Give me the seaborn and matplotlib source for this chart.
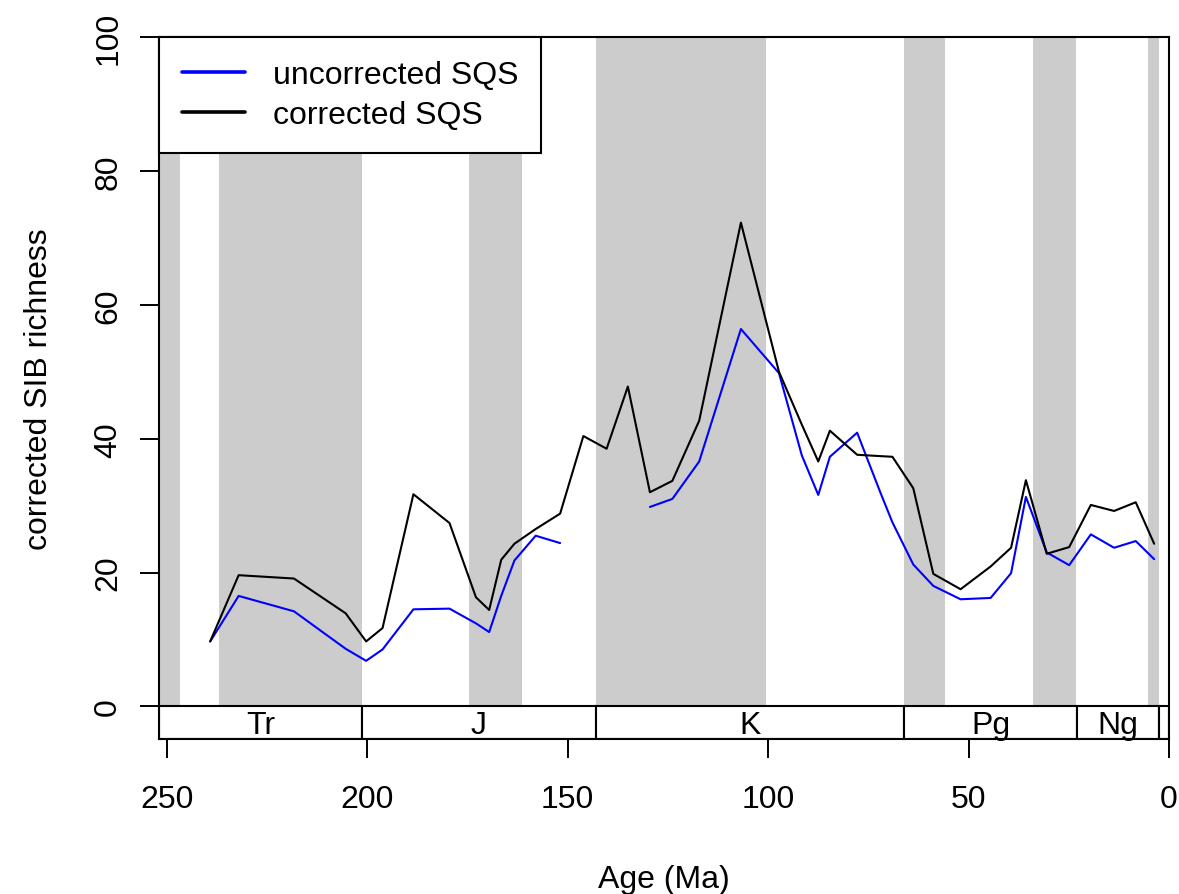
import numpy as np
import pandas as pd
import matplotlib
matplotlib.use("Agg")
import matplotlib.pyplot as plt
from matplotlib.patches import Rectangle
from matplotlib.lines import Line2D
import seaborn as sns

# Interval midpoints (Ma) and subsampled richness estimates
age = [239.2, 232.1, 218.3, 205.4, 200.3, 196.2, 188.5, 179.5, 172.9, 169.6,
       166.6, 163.3, 158.0, 151.9, 146.1, 140.3, 135.0, 129.5, 123.9, 117.2,
       106.8, 97.3, 91.6, 87.5, 84.6, 77.8, 72.1, 69.0, 63.8, 58.8,
       52.0, 44.5, 39.4, 35.7, 30.5, 24.9, 19.5, 13.7, 8.3, 3.7]
corrected = [9.7, 19.6, 19.1, 13.9, 9.7, 11.7, 31.7, 27.4, 16.3, 14.4,
             21.9, 24.3, 26.5, 28.8, 40.4, 38.5, 47.8, 32.0, 33.7, 42.7,
             72.3, 50.0, 42.1, 36.6, 41.2, 37.6, 37.4, 37.3, 32.6, 19.8,
             17.5, 20.9, 23.7, 33.8, 22.8, 23.8, 30.1, 29.2, 30.5, 24.3]
uncorrected = [9.7, 16.5, 14.2, 8.6, 6.8, 8.5, 14.5, 14.6, 12.4, 11.1,
               16.5, 21.8, 25.5, 24.4, np.nan, np.nan, np.nan, 29.8, 31.0, 36.6,
               56.4, 49.8, 37.5, 31.6, 37.3, 40.9, 32.1, 27.5, 21.2, 18.0,
               16.0, 16.2, 19.9, 31.3, 23.0, 21.1, 25.7, 23.7, 24.7, 22.0]

# Alternating shaded epochs (older, younger boundary in Ma)
band_old = [251.9, 237.0, 174.6, 143.0, 66.0, 33.9, 5.3]
band_young = [246.7, 201.3, 161.4, 100.6, 56.0, 23.1, 2.5]

# Geological periods along the bottom of the panel
period_names = ["Tr", "J", "K", "Pg", "Ng", ""]
period_bounds = [251.9, 201.3, 143.0, 66.0, 23.03, 2.58, 0.0]

x_ticks = [250, 200, 150, 100, 50, 0]
y_ticks = [0, 20, 40, 60, 80, 100]

sns.set_style("white")
plt.rcParams["font.family"] = ["Liberation Sans", "DejaVu Sans"]
plt.rcParams["text.color"] = "black"
plt.rcParams["axes.labelcolor"] = "black"
plt.rcParams["xtick.color"] = "black"
plt.rcParams["ytick.color"] = "black"
FS = 23

# Long-format table; missing values split the uncorrected series into runs
rows = []
for name, vals in [("uncorrected SQS", uncorrected), ("corrected SQS", corrected)]:
    seg = 0
    prev_nan = False
    for a, v in zip(age, vals):
        if np.isnan(v):
            prev_nan = True
            continue
        if prev_nan:
            seg += 1
            prev_nan = False
        rows.append({"age": a, "richness": v, "series": name, "segment": seg})
df = pd.DataFrame(rows)

fig = plt.figure(figsize=(11.79, 8.95), dpi=100)
ax = fig.add_axes([0.1351, 0.17285, 0.99152 - 0.1351, 0.9572 - 0.17285])

ymin = -4.93
for a, b in zip(band_old, band_young):
    ax.fill_betweenx([0, 100], a, b, color="#CCCCCC", lw=0, zorder=0)

for i, name in enumerate(period_names):
    old, young = period_bounds[i], period_bounds[i + 1]
    ax.add_patch(Rectangle((young, ymin), old - young, -ymin, facecolor="white",
                           edgecolor="black", lw=1.5, zorder=1))
    if name:
        ax.text((old + young) / 2, ymin / 2 - 0.3, name, ha="center", va="center",
                fontsize=FS, zorder=2)

palette = {"uncorrected SQS": "#0000FF", "corrected SQS": "black"}
sns.lineplot(data=df, x="age", y="richness", hue="series", units="segment",
             estimator=None, sort=False, palette=palette,
             hue_order=["uncorrected SQS", "corrected SQS"],
             linewidth=1.5, ax=ax, legend=False, zorder=3)

ax.set_xlim(251.9, 0)
ax.set_ylim(ymin, 100)
ax.set_xticks(x_ticks)
ax.set_yticks(y_ticks)
ax.set_xticklabels([str(t) for t in x_ticks], fontsize=FS)
ax.set_yticklabels([str(t) for t in y_ticks], fontsize=FS, rotation=90, va="center")
ax.tick_params(axis="both", direction="out", length=14, width=1.4, color="black")
ax.tick_params(axis="x", pad=18)
ax.tick_params(axis="y", pad=12)
ax.xaxis.set_ticks_position("bottom")
ax.yaxis.set_ticks_position("left")
for sp in ax.spines.values():
    sp.set_color("black")
    sp.set_linewidth(1.5)
    sp.set_zorder(5)

ax.set_xlabel("Age (Ma)", fontsize=FS, labelpad=36)
ax.set_ylabel("corrected SIB richness", fontsize=FS, labelpad=28)

handles = [Line2D([0], [0], color="#0000FF", lw=2.6),
           Line2D([0], [0], color="black", lw=2.6)]
leg = ax.legend(handles, ["uncorrected SQS", "corrected SQS"], loc="upper left",
                bbox_to_anchor=(0, 1), borderaxespad=0, fontsize=FS,
                frameon=True, fancybox=False, framealpha=1, edgecolor="black",
                handlelength=1.95, handletextpad=0.88, borderpad=0.72,
                labelspacing=0.3)
leg.get_frame().set_linewidth(1.5)
leg.set_zorder(6)

fig.savefig("out.png", dpi=100)
